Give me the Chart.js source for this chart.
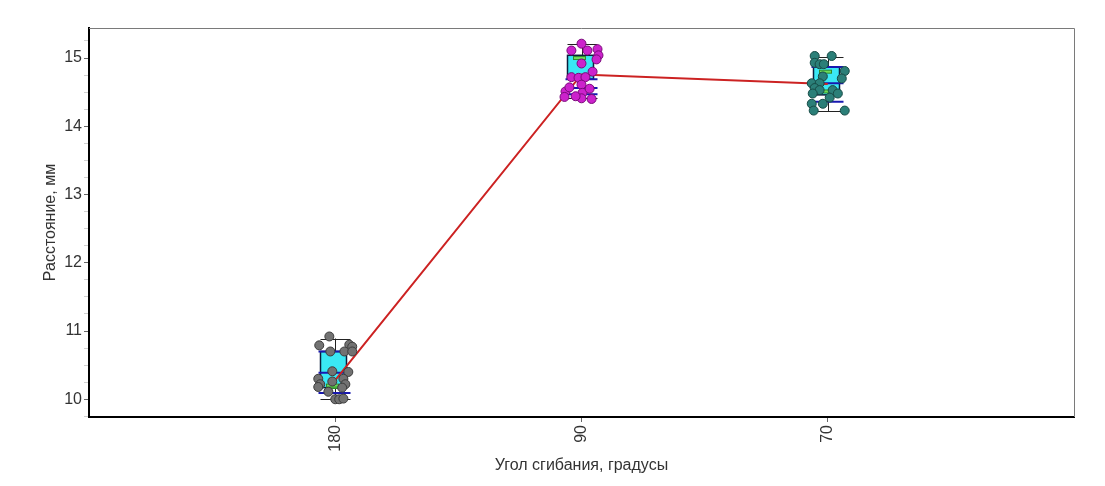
<!DOCTYPE html>
<html>
<head>
<meta charset="utf-8">
<script src="https://cdn.jsdelivr.net/npm/chart.js@4/dist/chart.umd.min.js"></script>
<style>
    body { margin: 0; background: #fff; }
    #wrap { width: 1105px; height: 486px; }
</style>
</head>
<body>
<div id="wrap"><canvas id="angleChart"></canvas></div>
<script>
// Groups and summary values
const categories = ['180', '90', '70'];
const yMajorTicks = [10, 11, 12, 13, 14, 15];

const meanValues = [10.28, 14.76, 14.62];
const whiskerLow = [10.0, 14.41, 14.22];
const whiskerHigh = [10.89, 15.20, 15.02];
const boxLow = [10.17, 14.69, 14.46];
const boxHigh = [10.70, 15.04, 14.87];
const blueLow = [10.09, 14.47, 14.36];
const blueMid = [10.39, 14.56, 14.63];
const blueHigh = [10.70, 14.69, 14.87];
const greenLow = [10.18, 14.72, 14.51];
const greenHigh = [10.20, 15.00, 14.80];

// Individual measurements (x = jitter around the group position)
const pts180X = [-0.024, -0.065, 0.057, 0.069, -0.020, 0.037, 0.069, -0.012, 0.053, -0.069,
                 0.033, -0.061, 0.041, -0.069, 0.028, -0.028, -0.012, 0.0, 0.016, 0.033];
const pts180Y = [10.92, 10.79, 10.80, 10.77, 10.70, 10.70, 10.70, 10.41, 10.40, 10.30,
                 10.30, 10.22, 10.22, 10.18, 10.17, 10.11, 10.26, 10.00, 10.00, 10.01];
const pts90X = [0.0, -0.041, 0.024, 0.065, 0.069, 0.061, 0.0, 0.045, -0.041, -0.012,
                0.016, -0.065, -0.049, 0.0, 0.004, 0.0, 0.041, -0.069, -0.024, 0.033];
const pts90Y = [15.21, 15.11, 15.11, 15.13, 15.04, 14.98, 14.92, 14.80, 14.72, 14.71,
                14.72, 14.51, 14.57, 14.61, 14.49, 14.41, 14.40, 14.43, 14.44, 14.55];
const pts70X = [-0.053, 0.016, -0.053, -0.033, -0.016, 0.069, -0.020, -0.065, -0.033, -0.053,
                -0.033, 0.020, -0.061, 0.041, 0.008, -0.065, -0.020, -0.057, 0.069, 0.057];
const pts70Y = [15.03, 15.03, 14.93, 14.91, 14.91, 14.81, 14.73, 14.63, 14.63, 14.56,
                14.53, 14.53, 14.48, 14.48, 14.42, 14.33, 14.33, 14.23, 14.23, 14.70];

const FONT = { family: "'Liberation Sans', Arial, sans-serif", size: 16 };

function toPoints(xs, ys, groupIndex) {
    return ys.map((v, k) => ({ x: groupIndex + xs[k], y: v }));
}

// minor ticks every 0.25 on the y axis
const yMinorTicks = [];
for (let k = 0; k <= 22; k++) yMinorTicks.push(Math.round((9.75 + k * 0.25) * 100) / 100);

// Box, whiskers, blue and green markers drawn under the datasets
const boxPlugin = {
    id: 'boxes',
    beforeDatasetsDraw(chart) {
        const { ctx, scales: { x, y } } = chart;
        ctx.save();
        categories.forEach((c, i) => {
            const cx = Math.round(x.getPixelForValue(i)) + 0.5;

            ctx.strokeStyle = '#222';
            ctx.lineWidth = 1;
            ctx.beginPath();
            ctx.moveTo(cx, y.getPixelForValue(whiskerLow[i]));
            ctx.lineTo(cx, y.getPixelForValue(whiskerHigh[i]));
            [whiskerLow[i], whiskerHigh[i]].forEach(v => {
                const py = Math.round(y.getPixelForValue(v)) + 0.5;
                ctx.moveTo(cx - 15, py);
                ctx.lineTo(cx + 15, py);
            });
            ctx.stroke();

            const top = y.getPixelForValue(boxHigh[i]);
            const bottom = y.getPixelForValue(boxLow[i]);
            ctx.fillStyle = '#3ae8f4';
            ctx.fillRect(cx - 15, top, 26, bottom - top);
            ctx.strokeStyle = '#0b1d3c';
            ctx.lineWidth = 1.5;
            ctx.strokeRect(cx - 15, top, 26, bottom - top);

            ctx.strokeStyle = '#1818b0';
            ctx.lineWidth = 2;
            [blueLow[i], blueMid[i], blueHigh[i]].forEach(v => {
                const py = y.getPixelForValue(v);
                ctx.beginPath();
                ctx.moveTo(cx - 17, py);
                ctx.lineTo(cx + 15, py);
                ctx.stroke();
            });

            ctx.fillStyle = '#6fdc5a';
            ctx.strokeStyle = '#2f8a2a';
            ctx.lineWidth = 1;
            [greenLow[i], greenHigh[i]].forEach(v => {
                const py = y.getPixelForValue(v);
                ctx.fillRect(cx - 9, py - 1.5, 12, 3);
                ctx.strokeRect(cx - 9, py - 1.5, 12, 3);
            });
        });
        ctx.restore();
    },
    afterDraw(chart) {
        // thin frame on the top and right sides
        const { ctx, chartArea: a } = chart;
        ctx.save();
        ctx.strokeStyle = '#7a7a7a';
        ctx.lineWidth = 1;
        ctx.beginPath();
        ctx.moveTo(a.left, a.top + 0.5);
        ctx.lineTo(a.right + 0.5, a.top + 0.5);
        ctx.lineTo(a.right + 0.5, a.bottom);
        ctx.stroke();
        ctx.restore();
    }
};

const pointStyle = (fill, stroke) => ({
    type: 'scatter',
    pointRadius: 4.5,
    pointBackgroundColor: fill,
    pointBorderColor: stroke,
    pointBorderWidth: 1,
    showLine: false,
    order: 1
});

const chart = new Chart(document.getElementById('angleChart'), {
    type: 'scatter',
    data: {
        datasets: [
            {
                type: 'line',
                data: meanValues.map((v, i) => ({ x: i, y: v })),
                borderColor: '#cc2222',
                borderWidth: 2,
                pointRadius: 0,
                fill: false,
                tension: 0,
                order: 2
            },
            { data: toPoints(pts180X, pts180Y, 0), ...pointStyle('#727272', '#3c3c3c') },
            { data: toPoints(pts90X, pts90Y, 1), ...pointStyle('#cc22cc', '#7a0a7a') },
            { data: toPoints(pts70X, pts70Y, 2), ...pointStyle('#2b7f78', '#174a45') }
        ]
    },
    options: {
        responsive: true,
        maintainAspectRatio: false,
        animation: false,
        layout: { padding: { top: 28, right: 31, left: 0, bottom: 0 } },
        plugins: {
            legend: { display: false },
            tooltip: { enabled: false }
        },
        scales: {
            x: {
                type: 'linear',
                min: -1,
                max: 3,
                afterBuildTicks: scale => { scale.ticks = categories.map((c, i) => ({ value: i })); },
                afterFit: scale => { scale.height = 69; },
                ticks: {
                    callback: v => categories[v],
                    minRotation: 90,
                    maxRotation: 90,
                    color: '#333',
                    font: FONT,
                    padding: 3
                },
                grid: { drawOnChartArea: false, drawTicks: true, tickLength: 5, color: '#666' },
                border: { color: '#000', width: 2 },
                title: {
                    display: true,
                    text: 'Угол сгибания, градусы',
                    color: '#333',
                    font: FONT,
                    padding: { top: 0, bottom: 11 }
                }
            },
            y: {
                min: 9.74,
                max: 15.44,
                afterBuildTicks: scale => { scale.ticks = yMinorTicks.map(v => ({ value: v })); },
                afterFit: scale => { scale.width = 89; },
                ticks: {
                    autoSkip: false,
                    callback: v => yMajorTicks.includes(v) ? String(v) : '',
                    color: '#333',
                    font: FONT,
                    padding: 2
                },
                grid: {
                    drawOnChartArea: false,
                    drawTicks: true,
                    tickLength: 5,
                    color: c => (c.tick && yMajorTicks.includes(c.tick.value)) ? '#666' : '#d0d0d0'
                },
                border: { color: '#000', width: 2 },
                title: {
                    display: true,
                    text: 'Расстояние, мм',
                    color: '#333',
                    font: FONT,
                    padding: { top: 41, bottom: 0 }
                }
            }
        }
    },
    plugins: [boxPlugin]
});
</script>
</body>
</html>
